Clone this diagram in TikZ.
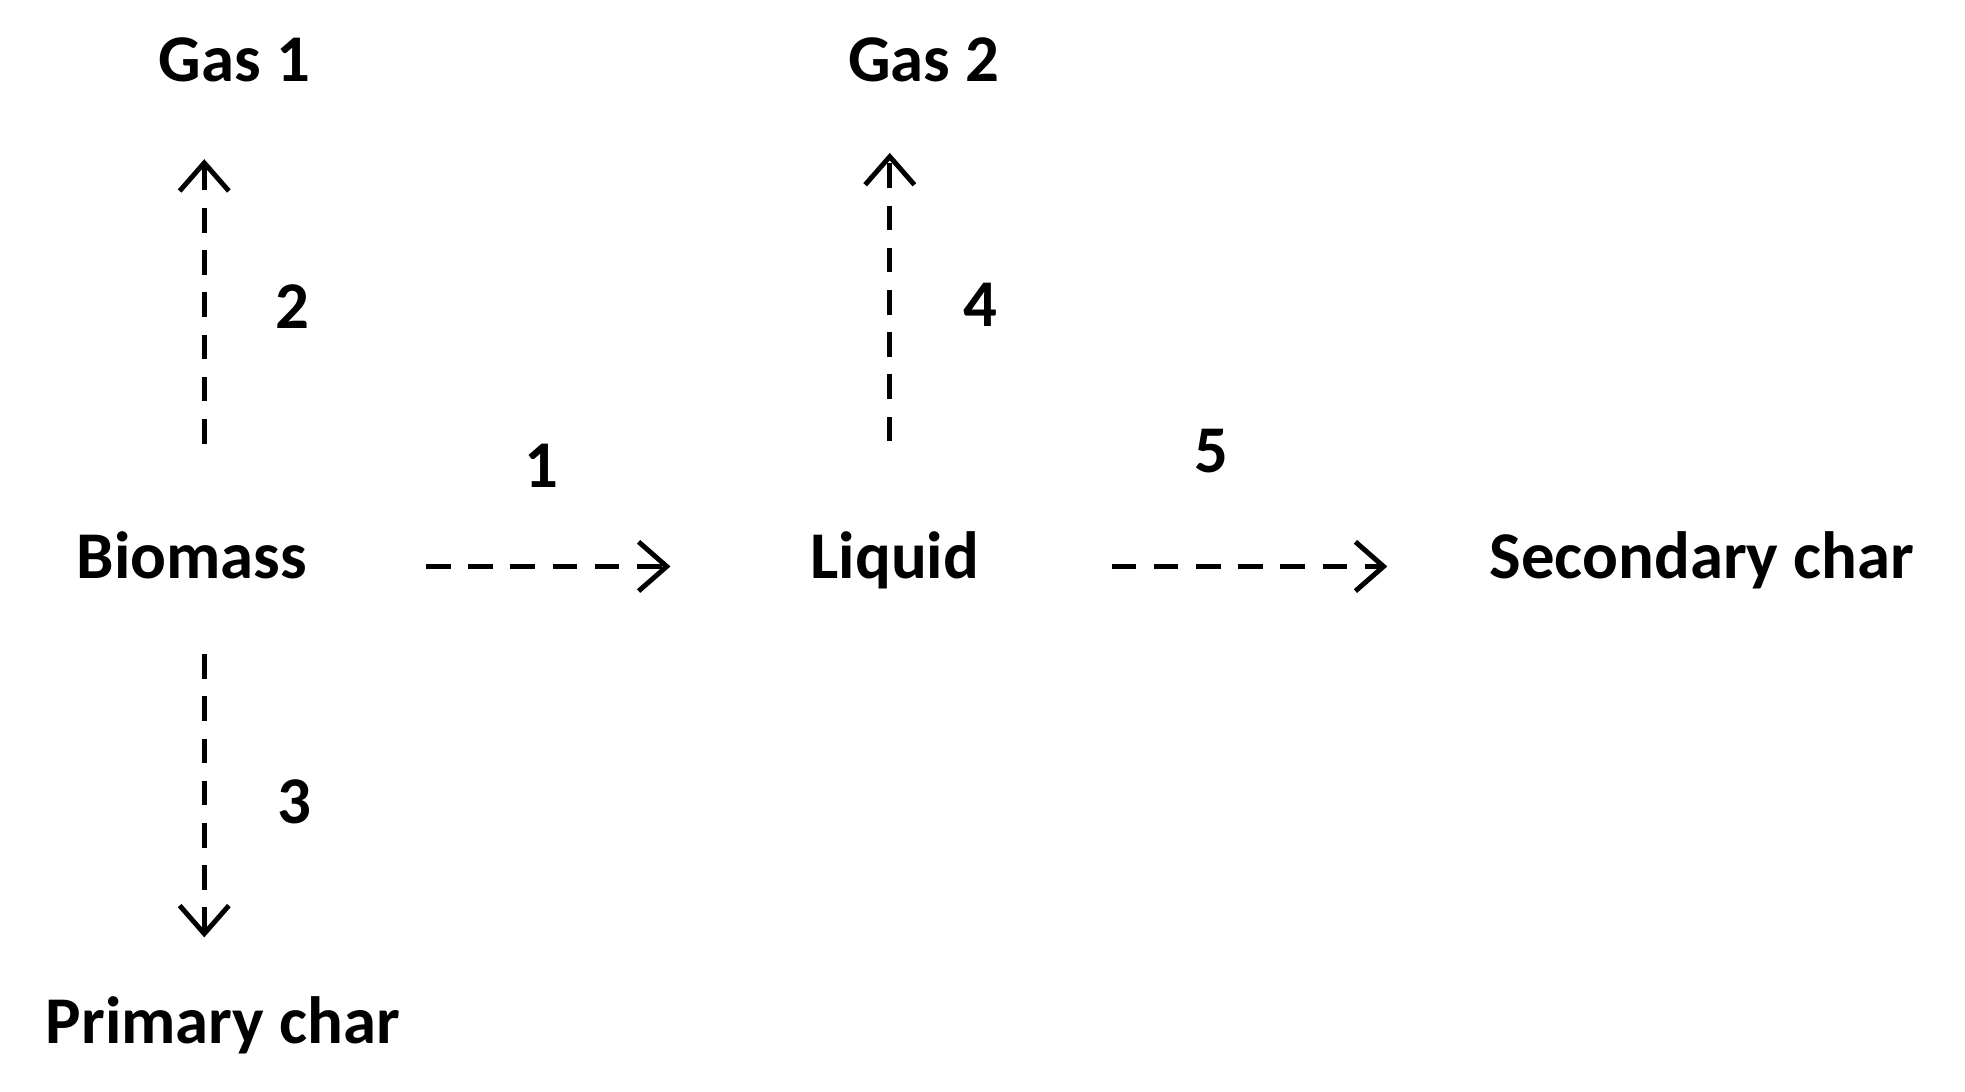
\documentclass[tikz,border=0pt]{standalone}
\usepackage{fontspec}
\setmainfont{Carlito}
\usetikzlibrary{arrows.meta}
\begin{document}
\begin{tikzpicture}[x=0.01253cm,y=-0.01253cm,
  lbl/.style={font=\bfseries\fontsize{19}{23}\selectfont,inner sep=0pt},
  arr/.style={line width=1.4pt,dash pattern=on 7pt off 5pt,-{Straight Barb[length=8pt,width=14pt,line width=1.4pt]}}]
\useasboundingbox (0,0) rectangle (1568,870.6);
\node[lbl] (gas1) at (187,48) {Gas 1};
\node[lbl] (gas2) at (737,48) {Gas 2};
\node[lbl] (bio) at (153,443) {Biomass};
\node[lbl] (liq) at (714,447) {Liquid};
\node[lbl] (sec) at (1358,447) {Secondary char};
\node[lbl] (pri) at (178,818) {Primary char};
\node[lbl] (n1) at (432,372) {1};
\node[lbl] (n2) at (233,245) {2};
\node[lbl] (n3) at (235,640) {3};
\node[lbl] (n4) at (782,243) {4};
\node[lbl] (n5) at (967,360) {5};
\coordinate (a1s) at (340,452); \coordinate (a1e) at (535,452);
\coordinate (a2s) at (163,354); \coordinate (a2e) at (163,127);
\coordinate (a3s) at (163,522); \coordinate (a3e) at (163,748);
\coordinate (a4s) at (710,352); \coordinate (a4e) at (710,122);
\coordinate (a5s) at (887,452); \coordinate (a5e) at (1107,452);
\draw[arr] (a1s) -- (a1e);
\draw[arr] (a2s) -- (a2e);
\draw[arr] (a3s) -- (a3e);
\draw[arr] (a4s) -- (a4e);
\draw[arr] (a5s) -- (a5e);
\end{tikzpicture}
\end{document}
